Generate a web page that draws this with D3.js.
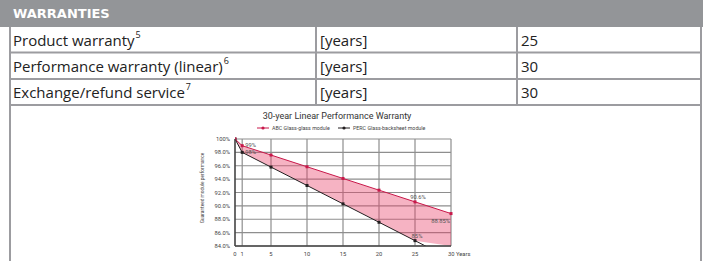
<!DOCTYPE html>
<html>
<head>
<meta charset="utf-8">
<script src="https://cdn.jsdelivr.net/npm/d3@7"></script>
<style>
    body { margin: 0; background: #fff; }
    .container { width: 706px; height: 261px; overflow: hidden; }
</style>
</head>
<body>
<div class="container"></div>
<script>
// table content
const headerTitle = 'WARRANTIES';
const rowLabels = ['Product warranty', 'Performance warranty (linear)', 'Exchange/refund service'];
const rowNotes = ['5', '6', '7'];
const rowUnits = ['[years]', '[years]', '[years]'];
const rowValues = ['25', '30', '30'];

// chart content
const chartTitle = '30-year Linear Performance Warranty';
const seriesNames = ['ABC Glass-glass module', 'PERC Glass-backsheet module'];
const years = [0, 1, 5, 10, 15, 20, 25, 30];
const abcValues = [100, 99, 97.6, 95.85, 94.1, 92.35, 90.6, 88.85];
const percValues = [100, 98, 95.8, 93.05, 90.3, 87.55, 84.8, 82.05];
const xTicks = [0, 1, 5, 10, 15, 20, 25, 30];
const yTicks = [100, 98, 96, 94, 92, 90, 88, 86, 84];
const yTickLabels = ['100%', '98.0%', '96.0%', '94.0%', '92.0%', '90.0%', '88.0%', '86.0%', '84.0%'];
const yAxisTitle = 'Guaranteed module performance';
const xUnit = 'Years';
// annotated points: [series index, year, text]
const pointLabels = [
    [0, 1, '99%'],
    [1, 1, '98%'],
    [0, 25, '90.6%'],
    [0, 30, '88.85%'],
    [1, 25, '85%']
];

let width = 706;
let height = 261;

const borderColor = '#9c9ca0';
const red = '#c8184a';
const dark = '#231f20';

const svg = d3.select('.container')
    .append('svg')
    .attr('width', width)
    .attr('height', height);

drawTable();
drawChart();

function drawTable() {
    let left = 10, right = 701;
    let col1 = 316, col2 = 517;
    let rowTops = [27, 52.5, 79, 105];

    //header bar
    svg.append('rect')
        .attr('x', 0).attr('y', 0)
        .attr('width', 703).attr('height', 27)
        .attr('fill', '#939598');

    svg.append('text')
        .attr('x', 13).attr('y', 18)
        .attr('fill', '#fff')
        .style('font-family', 'DejaVu Sans')
        .style('font-weight', 'bold')
        .style('font-size', '13px')
        .text(headerTitle);

    //outer borders
    svg.append('line')
        .attr('x1', left).attr('x2', left)
        .attr('y1', 27).attr('y2', height)
        .attr('stroke', borderColor).attr('stroke-width', 2);
    svg.append('line')
        .attr('x1', right).attr('x2', right)
        .attr('y1', 27).attr('y2', height)
        .attr('stroke', borderColor).attr('stroke-width', 2);

    //row lines
    rowTops.slice(1).forEach(y => {
        svg.append('line')
            .attr('x1', left).attr('x2', right)
            .attr('y1', y).attr('y2', y)
            .attr('stroke', borderColor).attr('stroke-width', 2);
    });

    //column lines
    [col1, col2].forEach(x => {
        svg.append('line')
            .attr('x1', x).attr('x2', x)
            .attr('y1', 27).attr('y2', rowTops[3])
            .attr('stroke', borderColor).attr('stroke-width', 2);
    });

    let rows = svg.selectAll('g.row')
        .data(rowLabels)
        .enter()
        .append('g')
        .attr('class', 'row')
        .attr('transform', (d, i) => 'translate(0,' + (rowTops[i] + 19) + ')')
        .style('font-family', 'Open Sans')
        .style('font-size', '15px')
        .attr('fill', '#222');

    let labels = rows.append('text')
        .attr('x', 13)
        .attr('y', 0)
        .text(d => d);

    rows.append('text')
        .attr('x', (d, i) => 13 + labels.nodes()[i].getComputedTextLength() + 1)
        .attr('y', -8)
        .style('font-size', '9px')
        .text((d, i) => rowNotes[i]);

    rows.append('text')
        .attr('x', col1 + 4)
        .attr('y', 0)
        .text((d, i) => rowUnits[i]);

    rows.append('text')
        .attr('x', col2 + 4)
        .attr('y', 0)
        .text((d, i) => rowValues[i]);
}

function drawChart() {
    let x = d3.scaleLinear().domain([0, 30]).range([235, 451]);
    let y = d3.scaleLinear().domain([84, 100]).range([246, 139]);

    let g = svg.append('g')
        .style('font-family', 'Roboto');

    //title
    g.append('text')
        .attr('x', 337).attr('y', 119)
        .attr('text-anchor', 'middle')
        .attr('fill', '#333')
        .style('font-size', '9px')
        .text(chartTitle);

    //legend
    let legendX = [257, 338];
    let legendColors = [red, dark];
    seriesNames.forEach((name, i) => {
        let lg = g.append('g').attr('transform', 'translate(' + legendX[i] + ',128)');
        lg.append('line')
            .attr('x1', 0).attr('x2', 12)
            .attr('stroke', legendColors[i]).attr('stroke-width', 1);
        lg.append('circle')
            .attr('cx', 6).attr('r', 1.6)
            .attr('fill', legendColors[i]);
        lg.append('text')
            .attr('x', 15).attr('y', 2)
            .attr('fill', '#444')
            .style('font-size', '5.3px')
            .text(name);
    });

    //grid
    g.selectAll('line.hgrid')
        .data(yTicks)
        .enter()
        .append('line')
        .attr('class', 'hgrid')
        .attr('x1', x(0)).attr('x2', x(30))
        .attr('y1', d => y(d)).attr('y2', d => y(d))
        .attr('stroke', '#8e8e8e').attr('stroke-width', 1.2);

    g.selectAll('line.vgrid')
        .data(xTicks.filter(d => d > 0))
        .enter()
        .append('line')
        .attr('class', 'vgrid')
        .attr('x1', d => x(d)).attr('x2', d => x(d))
        .attr('y1', y(100)).attr('y2', y(84))
        .attr('stroke', '#8e8e8e').attr('stroke-width', 1.2);

    //clip to plot area
    svg.append('clipPath')
        .attr('id', 'plotClip')
        .append('rect')
        .attr('x', x(0)).attr('y', y(100) - 3)
        .attr('width', x(30) - x(0) + 3)
        .attr('height', y(84) - y(100) + 3);

    let plot = g.append('g').attr('clip-path', 'url(#plotClip)');

    let pts = years.map((yr, i) => ({year: yr, abc: abcValues[i], perc: percValues[i]}));

    //band between the two warranties
    let band = d3.area()
        .x(d => x(d.year))
        .y0(d => Math.min(y(d.perc), y(84)))
        .y1(d => y(d.abc));
    plot.append('path')
        .datum(pts)
        .attr('d', band)
        .attr('fill', 'rgb(232,64,104)')
        .attr('fill-opacity', 0.4);

    let abcLine = d3.line().x(d => x(d.year)).y(d => y(d.abc));
    let percLine = d3.line().x(d => x(d.year)).y(d => y(d.perc));

    plot.append('path')
        .datum(pts)
        .attr('d', percLine)
        .attr('fill', 'none')
        .attr('stroke', dark).attr('stroke-width', 1);

    plot.append('path')
        .datum(pts)
        .attr('d', abcLine)
        .attr('fill', 'none')
        .attr('stroke', red).attr('stroke-width', 1);

    plot.selectAll('rect.perc')
        .data(pts.filter(d => d.perc >= 84))
        .enter()
        .append('rect')
        .attr('class', 'perc')
        .attr('x', d => x(d.year) - 1.5).attr('y', d => y(d.perc) - 1.5)
        .attr('width', 3).attr('height', 3)
        .attr('fill', dark);

    plot.selectAll('rect.abc')
        .data(pts)
        .enter()
        .append('rect')
        .attr('class', 'abc')
        .attr('x', d => x(d.year) - 1.5).attr('y', d => y(d.abc) - 1.5)
        .attr('width', 3).attr('height', 3)
        .attr('fill', red);

    //axes lines
    g.append('line')
        .attr('x1', x(0)).attr('x2', x(0))
        .attr('y1', y(100)).attr('y2', y(84))
        .attr('stroke', '#444').attr('stroke-width', 1.6);
    g.append('line')
        .attr('x1', x(0)).attr('x2', x(30))
        .attr('y1', y(84)).attr('y2', y(84))
        .attr('stroke', '#444').attr('stroke-width', 1.6);

    //tick labels
    g.selectAll('text.ytick')
        .data(yTicks)
        .enter()
        .append('text')
        .attr('class', 'ytick')
        .attr('x', 230)
        .attr('y', d => y(d) + 2)
        .attr('text-anchor', 'end')
        .attr('fill', '#444')
        .style('font-size', '5.8px')
        .text((d, i) => yTickLabels[i]);

    g.selectAll('text.xtick')
        .data(xTicks)
        .enter()
        .append('text')
        .attr('class', 'xtick')
        .attr('x', d => d === 30 ? x(d) - 3 : x(d))
        .attr('y', 256)
        .attr('text-anchor', d => d === 30 ? 'start' : 'middle')
        .attr('fill', '#444')
        .style('font-size', '5.8px')
        .text(d => d === 30 ? d + ' ' + xUnit : d);

    g.append('text')
        .attr('transform', 'translate(204,188) rotate(-90)')
        .attr('text-anchor', 'middle')
        .attr('fill', '#444')
        .style('font-size', '4.8px')
        .text(yAxisTitle);

    //point annotations
    let seriesVals = [abcValues, percValues];
    let labelPos = {
        '0-1': [3, 1, 'start'],
        '1-1': [3, 1.5, 'start'],
        '0-25': [3, -3, 'middle'],
        '0-30': [-1, 9, 'end'],
        '1-25': [2, -3, 'middle']
    };
    pointLabels.forEach(([s, yr, txt]) => {
        let v = seriesVals[s][years.indexOf(yr)];
        let off = labelPos[s + '-' + yr];
        g.append('text')
            .attr('x', x(yr) + off[0])
            .attr('y', y(v) + off[1])
            .attr('text-anchor', off[2])
            .attr('fill', '#555')
            .style('font-size', '5.8px')
            .text(txt);
    });
}
</script>
</body>
</html>
